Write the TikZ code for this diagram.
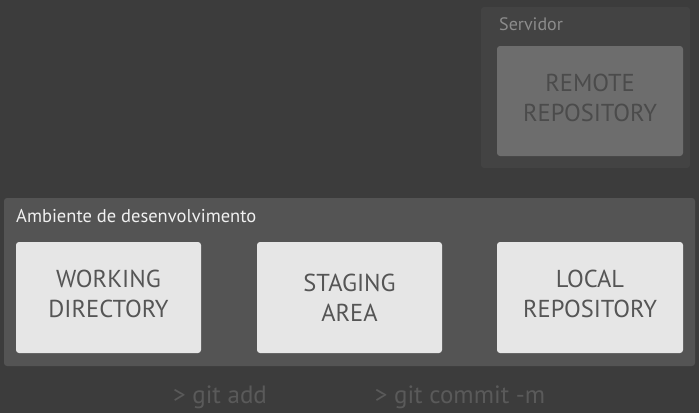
\documentclass[tikz,border=0pt]{standalone}
\usepackage{fontspec}
\setmainfont{PT Sans}
\definecolor{bgc}{HTML}{3C3C3C}
\definecolor{srvpanel}{HTML}{434343}
\definecolor{remotebox}{HTML}{6D6D6D}
\definecolor{remotetext}{HTML}{4B4B4B}
\definecolor{srvtext}{HTML}{8C8C8C}
\definecolor{devpanel}{HTML}{545454}
\definecolor{lightbox}{HTML}{E6E6E6}
\definecolor{boxtext}{HTML}{555555}
\definecolor{paneltext}{HTML}{F0F0F0}
\definecolor{cmdtext}{HTML}{5A5A5A}
\begin{document}
\begin{tikzpicture}[x=1pt,y=-1pt,
  panel/.style={rounded corners=3pt},
  boxlabel/.style={text=boxtext, align=center, font=\fontsize{24.5}{30}\selectfont},
  cmd/.style={text=cmdtext, font=\fontsize{25}{28}\selectfont}]
\useasboundingbox[fill=bgc] (0,0) rectangle (699,413);
% server panel
\fill[srvpanel, panel] (481,7) rectangle (690,168);
\node[anchor=base west, text=srvtext, font=\fontsize{18}{20}\selectfont, inner sep=0pt] (srvlabel) at (499,30) {Servidor};
\fill[remotebox, panel] (497,46) rectangle (683,156);
\node[boxlabel, text=remotetext] (remote) at (590,98) {REMOTE\\REPOSITORY};
% dev panel
\fill[devpanel, panel] (4,198) rectangle (695,366);
\node[anchor=base west, text=paneltext, font=\fontsize{18.5}{20}\selectfont, inner sep=0pt] (devlabel) at (16,222) {Ambiente de desenvolvimento};
\fill[lightbox, panel] (16,242) rectangle (201,353);
\fill[lightbox, panel] (257,242) rectangle (442,353);
\fill[lightbox, panel] (497,242) rectangle (683,353);
\node[boxlabel] (work) at (108.5,294) {WORKING\\DIRECTORY};
\node[boxlabel] (stage) at (349.5,298) {STAGING\\AREA};
\node[boxlabel] (local) at (590,294) {LOCAL\\REPOSITORY};
% commands
\node[cmd] (add) at (220,397) {> git add};
\node[cmd] (commit) at (460,397) {> git commit -m};
\end{tikzpicture}
\end{document}
